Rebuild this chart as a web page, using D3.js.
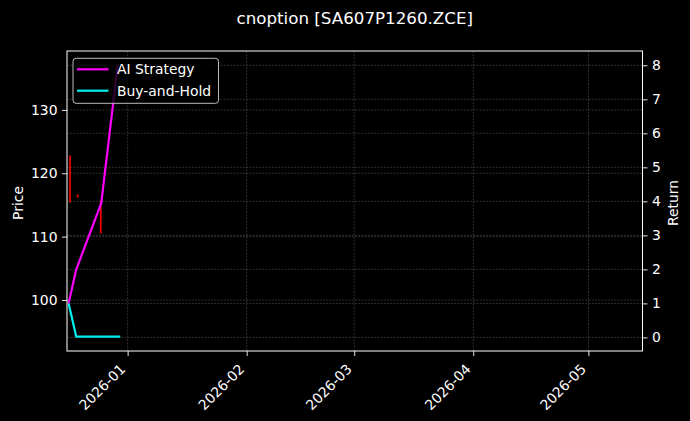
<!DOCTYPE html>
<html>
<head>
<meta charset="utf-8">
<script src="https://cdn.jsdelivr.net/npm/d3@7"></script>
<style>
  body { margin: 0; background: #000; }
  svg { display: block; font-family: "DejaVu Sans", sans-serif; }
</style>
</head>
<body>
<div id="chart"></div>
<script>
// data
const lineDates = ['2025-12-16T15:00', '2025-12-18T15:00', '2025-12-25T03:00', '2025-12-29T10:00', '2025-12-30T02:00'];
const aiReturn  = [1.0, 2.0, 3.95, 8.0, null];
const bhReturn  = [1.0, 0.02, null, null, 0.02];

const barDates = ['2025-12-17', '2025-12-19', '2025-12-25'];
const barLow   = [115.4, 116.2, 110.5];
const barHigh  = [122.8, 116.6, 115.7];

const priceTicks  = [100, 110, 120, 130];
const returnTicks = [0, 1, 2, 3, 4, 5, 6, 7, 8];
const monthTicks  = ['2026-01-01', '2026-02-01', '2026-03-01', '2026-04-01', '2026-05-01'];

const W = 690, H = 421;
const margin = { top: 51, right: 47.5, bottom: 70, left: 67 },
    width  = W - margin.left - margin.right,
    height = H - margin.top - margin.bottom;

const parse = s => new Date(s);

const x = d3.scaleUtc()
  .domain([parse('2025-12-16T05:00'), parse('2026-05-15T02:00')])
  .range([0, width]);
const yPrice = d3.scaleLinear().domain([91.95, 139.3]).range([height, 0]);
const yRet = d3.scaleLinear().domain([-0.4, 8.42]).range([height, 0]);

const svg = d3.select('#chart')
  .append('svg')
  .attr('width', W)
  .attr('height', H);

svg.append('rect').attr('width', W).attr('height', H).attr('fill', '#000');

const chart = svg.append('g')
  .attr('transform', `translate(${margin.left}, ${margin.top})`);

// grid
const grid = chart.append('g')
  .attr('stroke', '#9a9a9a')
  .attr('stroke-opacity', 0.5)
  .attr('stroke-width', 0.6)
  .attr('stroke-dasharray', '2,1.2');

grid.selectAll('.vg')
  .data(monthTicks)
  .enter()
  .append('line')
  .attr('x1', d => x(parse(d))).attr('x2', d => x(parse(d)))
  .attr('y1', 0).attr('y2', height);

grid.selectAll('.hp')
  .data(priceTicks)
  .enter()
  .append('line')
  .attr('x1', 0).attr('x2', width)
  .attr('y1', d => yPrice(d)).attr('y2', d => yPrice(d));

grid.selectAll('.hr')
  .data(returnTicks)
  .enter()
  .append('line')
  .attr('x1', 0).attr('x2', width)
  .attr('y1', d => yRet(d)).attr('y2', d => yRet(d));

// red price bars
const bars = barDates.map((d, i) => ({ date: parse(d), low: barLow[i], high: barHigh[i] }));
chart.selectAll('.bar')
  .data(bars)
  .enter()
  .append('line')
  .attr('class', 'bar')
  .attr('x1', d => x(d.date)).attr('x2', d => x(d.date))
  .attr('y1', d => yPrice(d.low)).attr('y2', d => yPrice(d.high))
  .attr('stroke', '#ee0000')
  .attr('stroke-width', 1.8);

// return lines
const lineGen = d3.line()
  .defined(d => d.v != null)
  .x(d => x(d.date))
  .y(d => yRet(d.v));

const series = [
  { name: 'AI Strategy', color: '#ff00ff', values: aiReturn },
  { name: 'Buy-and-Hold', color: '#00f0f0', values: bhReturn }
];

series.forEach(s => {
  const pts = lineDates.map((d, i) => ({ date: parse(d), v: s.values[i] })).filter(p => p.v != null);
  chart.append('path')
    .datum(pts)
    .attr('fill', 'none')
    .attr('stroke', s.color)
    .attr('stroke-width', 2.2)
    .attr('stroke-linejoin', 'round')
    .attr('d', lineGen);
});

// axes
const fs = '13.9px';
function styleAxis(g) {
  g.select('.domain').remove();
  g.selectAll('.tick line').attr('stroke', '#fff').attr('stroke-width', 0.9);
  g.selectAll('.tick text').attr('fill', '#fff').style('font-size', fs).style('font-family', '"DejaVu Sans", sans-serif');
}

chart.append('g')
  .attr('transform', `translate(0, ${height})`)
  .call(d3.axisBottom(x).tickValues(monthTicks.map(parse)).tickFormat(d3.utcFormat('%Y-%m')).tickSize(5).tickPadding(3))
  .call(styleAxis)
  .call(g => g.selectAll('.tick text')
    .attr('text-anchor', 'end')
    .attr('x', 0).attr('y', 0).attr('dy', '0')
    .attr('transform', 'translate(-2, 19) rotate(-45)'));

chart.append('g')
  .call(d3.axisLeft(yPrice).tickValues(priceTicks).tickSize(5).tickPadding(4.5))
  .call(styleAxis);

chart.append('g')
  .attr('transform', `translate(${width}, 0)`)
  .call(d3.axisRight(yRet).tickValues(returnTicks).tickSize(5).tickPadding(4.5))
  .call(styleAxis);

// frame
chart.append('rect')
  .attr('width', width).attr('height', height)
  .attr('fill', 'none')
  .attr('stroke', '#fff')
  .attr('stroke-width', 1);

// labels
svg.append('text')
  .attr('x', margin.left + width / 2)
  .attr('y', 24)
  .attr('text-anchor', 'middle')
  .attr('fill', '#fff')
  .style('font-size', '16.7px')
  .text('cnoption [SA607P1260.ZCE]');

svg.append('text')
  .attr('transform', `translate(23, ${margin.top + height / 2 + 2}) rotate(-90)`)
  .attr('text-anchor', 'middle')
  .attr('fill', '#fff')
  .style('font-size', fs)
  .text('Price');

svg.append('text')
  .attr('transform', `translate(678, ${margin.top + height / 2 + 2}) rotate(-90)`)
  .attr('text-anchor', 'middle')
  .attr('fill', '#fff')
  .style('font-size', fs)
  .text('Return');

// legend
const legend = chart.append('g')
  .attr('transform', 'translate(6, 7.3)');

legend.append('rect')
  .attr('width', 145.5).attr('height', 45)
  .attr('rx', 3)
  .attr('fill', '#000').attr('fill-opacity', 0.8)
  .attr('stroke', '#d0d0d0').attr('stroke-width', 0.9);

const items = legend.selectAll('.item')
  .data(series)
  .enter()
  .append('g')
  .attr('transform', (d, i) => `translate(0, ${11 + i * 21.4})`);

items.append('line')
  .attr('x1', 4).attr('x2', 35.5)
  .attr('stroke', d => d.color)
  .attr('stroke-width', 2.2);

items.append('text')
  .attr('x', 44)
  .attr('dy', '0.36em')
  .attr('fill', '#fff')
  .style('font-size', fs)
  .text(d => d.name);
</script>
</body>
</html>
